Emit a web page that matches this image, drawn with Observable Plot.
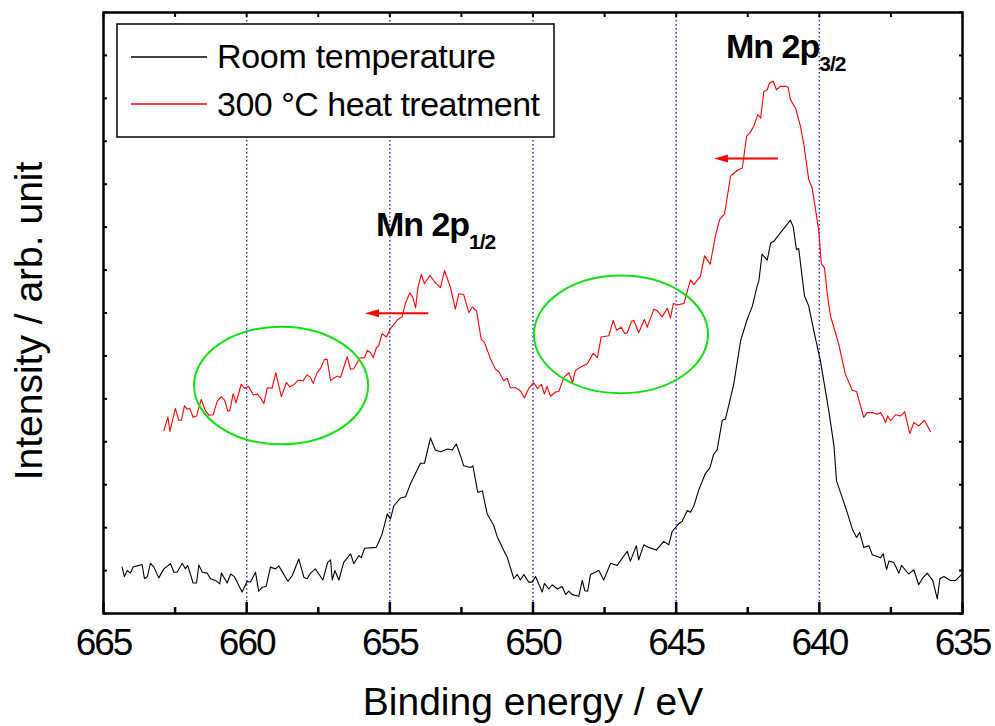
<!DOCTYPE html>
<html><head><meta charset="utf-8">
<script src="https://cdn.jsdelivr.net/npm/d3@7"></script>
<script src="https://cdn.jsdelivr.net/npm/@observablehq/plot@0.6"></script>
<style>
body{margin:0;background:#fff}
#chart svg{font-family:"Liberation Sans",Arial,sans-serif}
g[aria-label="x-axis tick label"] text{letter-spacing:-2px}
</style>
</head><body><div id="chart"></div>
<script>
// Room temperature spectrum (binding energy eV, intensity arb. unit)
const rtEnergy = [664.35,664.27,664.17,664.06,663.96,663.82,663.65,663.57,663.47,663.36,663.24,663.07,662.89,662.66,662.54,662.43,662.25,662.14,662.06,661.87,661.75,661.67,661.55,661.38,661.26,661.09,660.94,660.88,660.68,660.56,660.43,660.16,659.98,659.87,659.69,659.58,659.46,659.32,659.17,658.99,658.88,658.56,658.41,658.18,658.00,657.89,657.77,657.60,657.48,657.34,657.17,657.07,657.01,656.92,656.78,656.61,656.37,656.26,656.08,656.00,655.88,655.48,655.39,655.27,655.09,654.98,654.86,654.63,654.45,654.28,653.93,653.79,653.58,653.41,653.23,652.98,652.82,652.68,652.53,652.42,652.18,652.10,651.93,651.77,651.60,651.37,651.25,651.02,650.90,650.67,650.55,650.44,650.32,650.15,650.03,649.91,649.68,649.60,649.45,649.33,649.15,648.98,648.86,648.75,648.63,648.40,648.28,648.19,648.09,647.99,647.70,647.53,647.29,647.06,646.71,646.60,646.39,646.31,646.13,645.96,645.69,645.43,645.26,645.14,644.91,644.79,644.61,644.50,644.38,644.21,643.98,643.82,643.69,643.57,643.39,643.28,643.16,642.99,642.75,642.52,642.34,642.17,642.11,642.00,641.82,641.70,641.59,641.30,641.18,641.01,640.91,640.80,640.72,640.52,640.37,640.19,639.96,639.67,639.49,639.40,639.20,639.03,638.85,638.70,638.59,638.45,638.27,638.15,637.86,637.77,637.65,637.57,637.40,637.22,637.13,636.88,636.70,636.53,636.41,636.23,636.04,635.88,635.79,635.65,635.42,635.24,635.07,635.00];
const rtIntensity = [1.08,0.86,1.00,0.94,1.09,1.11,1.14,0.81,0.86,1.17,1.08,0.83,1.04,1.16,0.96,0.96,1.17,1.04,1.12,0.71,0.71,1.13,0.96,0.94,0.81,0.77,0.69,0.94,0.71,0.92,0.86,0.50,0.75,0.73,0.96,0.52,0.61,0.63,1.08,1.04,1.11,0.75,0.88,1.27,0.84,0.81,0.94,1.04,0.92,0.78,1.19,1.25,0.78,1.00,0.78,1.19,1.39,1.16,1.35,1.30,1.52,1.54,1.66,1.85,2.32,2.20,2.51,2.69,2.72,3.02,3.50,3.50,4.09,3.81,3.77,3.83,3.81,3.95,3.67,3.44,3.40,3.44,2.82,2.86,2.32,2.05,1.79,1.47,1.31,0.81,0.91,0.78,0.91,0.73,0.73,0.86,0.50,0.70,0.57,0.67,0.57,0.63,0.44,0.52,0.44,0.40,0.77,0.53,0.52,0.91,1.00,0.78,1.17,1.12,1.45,1.22,1.58,1.25,1.60,1.54,1.48,1.68,1.60,1.91,2.09,2.15,2.40,2.36,2.51,2.88,3.26,3.40,3.71,3.81,4.50,4.53,4.86,5.34,6.35,6.85,7.16,7.63,7.76,8.37,8.23,8.63,8.67,8.92,9.02,9.16,9.00,8.48,8.50,7.40,7.16,6.58,5.88,4.72,3.91,3.09,2.70,2.36,1.97,1.77,1.89,1.54,1.58,1.37,1.30,1.39,1.02,1.22,1.19,0.94,1.12,0.92,1.02,0.67,0.81,0.94,0.77,0.34,0.81,0.86,0.77,0.77,0.88,0.93];

// 300 °C heat treatment spectrum
const htEnergy = [662.89,662.75,662.68,662.49,662.37,662.28,662.17,662.08,661.99,661.87,661.75,661.59,661.44,661.32,661.17,661.03,660.89,660.77,660.66,660.59,660.47,660.37,660.19,660.08,659.93,659.77,659.63,659.52,659.40,659.28,659.11,658.98,658.79,658.61,658.50,658.35,658.21,658.12,658.03,657.89,657.77,657.68,657.54,657.42,657.28,657.19,657.07,656.96,656.84,656.72,656.49,656.37,656.26,656.05,655.88,655.79,655.68,655.58,655.47,655.39,655.27,655.12,654.98,654.84,654.72,654.57,654.45,654.30,654.20,654.10,654.02,653.90,653.79,653.60,653.41,653.23,653.09,652.88,652.71,652.59,652.42,652.24,652.12,651.97,651.81,651.69,651.48,651.31,651.19,651.02,650.90,650.79,650.61,650.44,650.30,650.15,649.98,649.84,649.71,649.60,649.51,649.39,649.21,649.10,648.92,648.75,648.62,648.52,648.34,648.10,647.90,647.75,647.62,647.35,647.20,647.08,646.92,646.80,646.71,646.56,646.48,646.31,646.11,646.01,645.78,645.66,645.49,645.31,645.20,645.10,644.96,644.73,644.61,644.50,644.38,644.15,644.01,643.81,643.63,643.48,643.31,643.10,642.87,642.69,642.54,642.43,642.29,642.15,642.05,641.94,641.82,641.74,641.61,641.50,641.36,641.18,641.09,641.01,640.83,640.66,640.54,640.37,640.25,640.07,640.02,639.93,639.82,639.72,639.61,639.32,639.09,638.85,638.70,638.45,638.33,638.15,637.98,637.86,637.77,637.69,637.61,637.51,637.34,637.16,637.02,636.84,636.70,636.53,636.33,636.12];
const htIntensity = [4.26,4.58,4.24,4.78,4.50,4.50,4.84,4.76,4.78,4.57,4.60,4.99,4.72,4.62,4.63,4.94,5.05,4.97,4.72,4.72,5.12,4.91,5.34,5.25,5.29,5.09,5.11,5.03,4.89,5.26,5.25,5.61,5.05,5.38,5.28,5.33,5.43,5.43,5.42,5.56,5.50,5.36,5.61,5.71,5.92,5.92,5.43,5.48,5.53,5.50,5.98,5.69,5.70,5.95,5.96,6.13,6.08,5.96,6.19,6.23,6.52,6.44,6.64,6.75,6.85,6.91,7.24,7.47,7.37,7.12,7.59,7.90,7.68,7.88,7.70,7.59,7.99,7.59,7.09,7.45,7.43,7.01,7.14,7.05,6.39,6.31,5.92,5.69,5.63,5.42,5.48,5.26,5.26,5.19,5.02,5.24,5.38,5.24,5.34,5.11,5.29,5.06,5.16,5.17,5.50,5.61,5.38,5.66,5.74,5.82,6.06,5.96,6.44,6.47,6.83,6.60,6.67,6.52,6.54,6.80,6.83,6.54,6.85,6.67,7.09,7.05,6.91,7.11,6.88,7.22,7.19,7.22,7.51,7.77,7.66,7.86,8.33,8.14,8.79,9.18,9.31,10.19,10.32,10.38,11.12,11.19,11.35,11.62,11.54,12.16,12.20,12.36,12.40,12.20,12.28,12.28,12.26,11.97,11.77,11.35,10.92,10.11,9.91,9.14,8.91,8.15,8.05,7.43,6.93,6.27,5.57,5.20,5.17,4.57,4.68,4.68,4.64,4.68,4.58,4.45,4.60,4.49,4.63,4.60,4.70,4.19,4.45,4.37,4.50,4.24];

const seriesNames = ["Room temperature", "300 °C heat treatment"];
const seriesColors = ["#000000", "#ff0000"];
const xTicks = [665, 660, 655, 650, 645, 640, 635];
const xMinorTicks = [662.5, 657.5, 652.5, 647.5, 642.5, 637.5];
const yTicks = [0,1,2,3,4,5,6,7,8,9,10,11,12,13,14];
const guideLines = [660, 655, 650, 645, 640];
const xLabel = "Binding energy / eV";
const yLabel = "Intensity / arb. unit";

// annotations in data units
const peakLabels = [
  {x: 643.24, y: 12.93, main: "Mn 2p", sub: "3/2"},
  {x: 655.47, y: 8.79, main: "Mn 2p", sub: "1/2"}
];
const shiftArrows = [
  {x1: 641.43, x2: 643.66, y: 10.59},
  {x1: 653.64, x2: 655.85, y: 6.98}
];
const ellipses = [
  {cx: 658.78, cy: 5.30, rx: 3.04, ry: 1.37},
  {cx: 646.91, cy: 6.49, rx: 3.04, ry: 1.37}
];

const rt = rtEnergy.map((e, i) => ({e, v: rtIntensity[i]}));
const ht = htEnergy.map((e, i) => ({e, v: htIntensity[i]}));

const plot = Plot.plot({
  width: 995, height: 726,
  marginLeft: 103, marginRight: 33, marginTop: 12, marginBottom: 113,
  style: {fontFamily: "'Liberation Sans', Arial, sans-serif", background: "#fff", color: "#000"},
  x: {domain: [665, 635]},
  y: {domain: [0, 14]},
  marks: [
    Plot.ruleX(guideLines, {stroke: "#2020ff", strokeWidth: 1.4, strokeDasharray: "1.5,2.5"}),
    Plot.line(rt, {x: "e", y: "v", stroke: seriesColors[0], strokeWidth: 1.1}),
    Plot.line(ht, {x: "e", y: "v", stroke: seriesColors[1], strokeWidth: 1.1}),
    Plot.axisX({ticks: xTicks, tickSize: 0, tickPadding: 15, fontSize: 37, label: null, tickFormat: d => String(d)}),
    Plot.axisX({ticks: xTicks, tickSize: -11, strokeWidth: 2.5, tickFormat: () => "", label: null}),
    Plot.axisX({ticks: xMinorTicks, tickSize: -6, strokeWidth: 2.5, tickFormat: () => "", label: null}),
    Plot.axisX({anchor: "top", ticks: xTicks.concat(xMinorTicks), tickSize: -4, strokeWidth: 2, tickFormat: () => "", label: null}),
    Plot.axisY({ticks: yTicks, tickSize: -4, strokeWidth: 2, tickFormat: () => "", label: null}),
    Plot.axisY({anchor: "right", ticks: yTicks, tickSize: -4, strokeWidth: 2, tickFormat: () => "", label: null}),
    Plot.frame({stroke: "#000", strokeWidth: 2.5})
  ]
});
document.getElementById("chart").appendChild(plot);

const sx = plot.scale("x"), sy = plot.scale("y");
const svg = d3.select(plot);
const ann = svg.append("g").attr("text-anchor", "start");

ellipses.forEach(el => {
  const cx = sx.apply(el.cx), cy = sy.apply(el.cy);
  ann.append("ellipse").attr("cx", cx).attr("cy", cy)
    .attr("rx", Math.abs(sx.apply(el.cx + el.rx) - cx))
    .attr("ry", Math.abs(sy.apply(el.cy + el.ry) - cy))
    .attr("fill", "none").attr("stroke", "#11e011").attr("stroke-width", 2);
});

shiftArrows.forEach(a => {
  const x1 = sx.apply(a.x1), x2 = sx.apply(a.x2), y = sy.apply(a.y);
  ann.append("line").attr("x1", x1).attr("x2", x2 + 12).attr("y1", y).attr("y2", y)
    .attr("stroke", "#ff0000").attr("stroke-width", 2);
  ann.append("path").attr("d", `M${x2},${y}L${x2 + 14},${y - 4}L${x2 + 14},${y + 4}Z`).attr("fill", "#ff0000");
});

peakLabels.forEach(p => {
  const t = ann.append("text").attr("x", sx.apply(p.x)).attr("y", sy.apply(p.y)).attr("text-anchor", "start")
    .attr("font-size", 34).attr("font-weight", "bold").attr("letter-spacing", "-1px").attr("fill", "#000");
  t.append("tspan").text(p.main);
  t.append("tspan").attr("dy", 13).attr("font-size", 21).text(p.sub);
});

// axis titles
svg.append("text").attr("x", 533).attr("y", 715).attr("text-anchor", "middle")
  .attr("font-size", 39).attr("fill", "#000").text(xLabel);
svg.append("text").attr("transform", "translate(42,321) rotate(-90)").attr("text-anchor", "middle")
  .attr("font-size", 39).attr("fill", "#000").text(yLabel);

// legend
const lg = svg.append("g").attr("text-anchor", "start");
lg.append("rect").attr("x", 117).attr("y", 24).attr("width", 437).attr("height", 113)
  .attr("fill", "#fff").attr("stroke", "#000").attr("stroke-width", 1.5);
[57, 104].forEach((ly, i) => {
  lg.append("line").attr("x1", 131).attr("x2", 207).attr("y1", ly).attr("y2", ly)
    .attr("stroke", seriesColors[i]).attr("stroke-width", 1.3);
});
lg.append("text").attr("x", 217).attr("y", 68).attr("text-anchor", "start").attr("font-size", 34)
  .attr("letter-spacing", "-0.3px").attr("fill", "#000").text(seriesNames[0]);
const t2 = lg.append("text").attr("x", 217).attr("y", 116).attr("text-anchor", "start").attr("font-size", 34)
  .attr("letter-spacing", "-0.5px").attr("fill", "#000");
t2.append("tspan").text("300 ");
t2.append("tspan").attr("font-size", 34).text("°");
t2.append("tspan").text("C heat treatment");
</script>
</body></html>
